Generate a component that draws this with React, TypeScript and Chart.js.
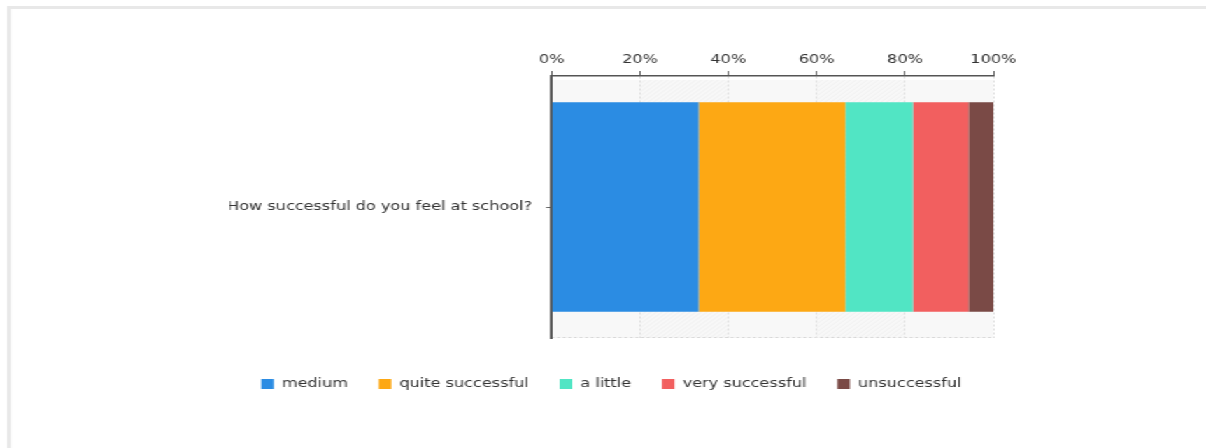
import React, { useEffect, useRef } from 'react';
import { Chart, registerables } from 'chart.js';

Chart.register(...registerables);

const categories = ['How successful do you feel at school?'];
const seriesNames = ['medium', 'quite successful', 'a little', 'very successful', 'unsuccessful'];
const mediumValues = [33.3];
const quiteSuccessfulValues = [33.2];
const aLittleValues = [15.3];
const verySuccessfulValues = [12.6];
const unsuccessfulValues = [5.6];
const seriesColors = ['#2b8ce3', '#fda814', '#51e5c4', '#f25f5f', '#7a4a46'];
const xTickValues = [0, 20, 40, 60, 80, 100];
const xTickLabels = ['0%', '20%', '40%', '60%', '80%', '100%'];

const W = 862;
const H = 448;
const SCALE = 1206 / W;

const FONT = { family: '"DejaVu Sans", Verdana, sans-serif', size: 11.5 };

const plotBg = {
  id: 'plotBg',
  beforeDraw(chart: any) {
    const { ctx, chartArea: a, scales } = chart;
    const x = scales.x;
    const top = a.top + 4;
    ctx.save();
    ctx.fillStyle = '#f8f8f8';
    ctx.fillRect(a.left, top, a.right - a.left, a.bottom - top);
    for (let i = 1; i < xTickValues.length - 1; i += 2) {
      const x0 = x.getPixelForValue(xTickValues[i]);
      const x1 = x.getPixelForValue(xTickValues[i + 1]);
      ctx.save();
      ctx.beginPath();
      ctx.rect(x0, top, x1 - x0, a.bottom - top);
      ctx.clip();
      ctx.strokeStyle = 'rgba(0,0,0,0.035)';
      ctx.lineWidth = 1;
      const h = a.bottom - top;
      for (let k = x0 - h; k < x1; k += 4) {
        ctx.beginPath();
        ctx.moveTo(k, a.bottom);
        ctx.lineTo(k + h, top);
        ctx.stroke();
      }
      ctx.restore();
    }
    ctx.setLineDash([2, 2]);
    ctx.strokeStyle = '#d6d6d6';
    ctx.lineWidth = 1;
    ctx.beginPath();
    ctx.moveTo(a.left, a.bottom - 0.5);
    ctx.lineTo(a.right, a.bottom - 0.5);
    ctx.stroke();
    ctx.restore();
  },
};

export default function App() {
  const canvasRef = useRef<HTMLCanvasElement | null>(null);

  useEffect(() => {
    const canvas = canvasRef.current;
    if (!canvas) return;
    const valueSets = [mediumValues, quiteSuccessfulValues, aLittleValues, verySuccessfulValues, unsuccessfulValues];
    const chart = new Chart(canvas, {
      type: 'bar',
      data: {
        labels: categories,
        datasets: seriesNames.map((name, i) => ({
          label: name,
          data: valueSets[i],
          backgroundColor: seriesColors[i],
          borderWidth: 0,
          barPercentage: 0.8,
          categoryPercentage: 1,
        })),
      },
      options: {
        indexAxis: 'y',
        responsive: false,
        animation: false,
        devicePixelRatio: 1,
        events: [],
        layout: { padding: { left: 164, right: 152, top: 49.2, bottom: 48.25 } },
        scales: {
          x: {
            position: 'top',
            stacked: true,
            min: 0,
            max: 100,
            afterBuildTicks(scale: any) {
              scale.ticks = xTickValues.map((v) => ({ value: v }));
            },
            ticks: {
              color: '#333',
              font: FONT,
              padding: 4,
              maxRotation: 0,
              autoSkip: false,
              callback: (_v: any, i: number) => xTickLabels[i],
            },
            grid: {
              color: '#dedede',
              lineWidth: 1,
              tickLength: 5,
              tickColor: '#666',
              tickWidth: 1,
            },
            border: { display: true, color: '#555', width: 1.5, dash: [2, 2] },
          },
          y: {
            stacked: true,
            afterFit(scale: any) {
              scale.width = 230.3;
            },
            ticks: { color: '#333', font: FONT, padding: 10 },
            grid: {
              display: true,
              drawOnChartArea: false,
              offset: false,
              tickLength: 4,
              tickColor: '#666',
              tickWidth: 1,
            },
            border: { display: true, color: '#555', width: 2 },
          },
        },
        plugins: {
          tooltip: { enabled: false },
          legend: {
            position: 'bottom',
            align: 'center',
            title: { display: true, text: '', font: { size: 10 }, padding: { top: 0, bottom: 6.25 } },
            labels: {
              boxWidth: 9,
              boxHeight: 10,
              padding: 22,
              color: '#333',
              font: FONT,
            },
          },
        },
      },
      plugins: [plotBg],
    } as any);
    return () => chart.destroy();
  }, []);

  return (
    <div
      style={{
        position: 'fixed',
        left: 0,
        top: 0,
        width: W,
        height: H,
        transform: `scaleX(${SCALE})`,
        transformOrigin: '0 0',
        background: '#fff',
        overflow: 'visible',
      }}
    >
      <div
        style={{
          position: 'absolute',
          left: 5,
          top: 6,
          width: W + 40,
          height: H + 40,
          borderLeft: '3px solid #e8e8e8',
          borderTop: '3px solid #e8e8e8',
        }}
      />
      <canvas
        ref={canvasRef}
        width={W}
        height={H}
        style={{ position: 'absolute', left: 0, top: 0, width: `${W}px`, height: `${H}px` }}
      />
    </div>
  );
}
